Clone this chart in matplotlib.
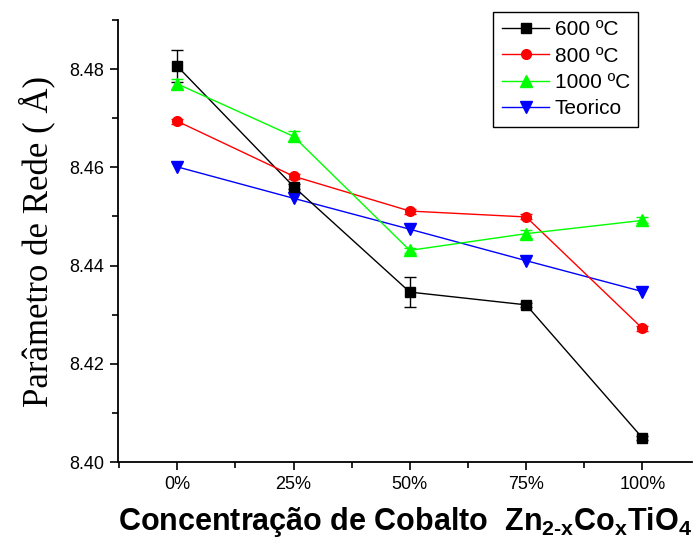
import matplotlib
matplotlib.use('Agg')
import matplotlib.pyplot as plt
from matplotlib.ticker import FixedLocator
from matplotlib.lines import Line2D

plt.rcParams['font.family'] = ['Liberation Sans', 'DejaVu Sans']
plt.rcParams['mathtext.fontset'] = 'custom'
plt.rcParams['mathtext.bf'] = 'Liberation Sans:bold'
plt.rcParams['mathtext.rm'] = 'Liberation Sans:bold'

# concentration of cobalt (%)
x = [0, 25, 50, 75, 100]
x_labels = ['0%', '25%', '50%', '75%', '100%']

y_600 = [8.4806, 8.4561, 8.4346, 8.4320, 8.4049]
err_600 = [0.0032, 0.0005, 0.0030, 0.0004, 0.0004]
y_800 = [8.4694, 8.4582, 8.4511, 8.4499, 8.4272]
err_800 = [0.0005, 0.0005, 0.0005, 0.0005, 0.0005]
y_1000 = [8.4770, 8.4663, 8.4431, 8.4465, 8.4492]
err_1000 = [0.0010, 0.0010, 0.0005, 0.0008, 0.0006]
y_teo = [8.4601, 8.4537, 8.4474, 8.4410, 8.4347]

fig = plt.figure(figsize=(6.95, 5.41), dpi=100)
ax = fig.add_axes([0.170, 0.146, 0.826, 0.817])

ax.errorbar(x, y_600, yerr=err_600, color='black', marker='s', ms=7, lw=1,
            capsize=4, elinewidth=1)
ax.errorbar(x, y_800, yerr=err_800, color='red', marker='o', ms=7, lw=1,
            capsize=4, elinewidth=1)
ax.errorbar(x, y_1000, yerr=err_1000, color='#00ff00', marker='^', ms=8, lw=1,
            capsize=4, elinewidth=1)
ax.plot(x, y_teo, color='blue', marker='v', ms=8, lw=1)

ax.set_xlim(-12.7, 110.7)
ax.set_ylim(8.40, 8.49)
ax.xaxis.set_major_locator(FixedLocator(x))
ax.set_xticklabels(x_labels)
ax.xaxis.set_minor_locator(FixedLocator([-12.5, 12.5, 37.5, 62.5, 87.5]))
ax.yaxis.set_major_locator(FixedLocator([8.40, 8.42, 8.44, 8.46, 8.48]))
ax.yaxis.set_minor_locator(FixedLocator([8.41, 8.43, 8.45, 8.47, 8.49]))
ax.yaxis.set_major_formatter(plt.FuncFormatter(lambda v, p: '%.2f' % v))

ax.spines['top'].set_visible(False)
ax.spines['right'].set_visible(False)
ax.spines['left'].set_linewidth(1.3)
ax.spines['bottom'].set_linewidth(1.3)
ax.tick_params(which='major', direction='out', length=6, width=1.2, labelsize=13, pad=4)
ax.tick_params(which='minor', direction='out', length=4, width=1.2)

ax.set_ylabel('Parâmetro de Rede ( Å)', family=['Liberation Serif'], fontsize=25, labelpad=10)
ax.set_xlabel(r'Concentração de Cobalto  Zn$_{\mathbf{2\text{-}x}}$Co$_{\mathbf{x}}$TiO$_{\mathbf{4}}$',
              fontsize=22, fontweight='bold', labelpad=9)

# legend handles: line - marker - line, no error bars
handles = [
    Line2D([], [], color='black', marker='s', ms=7, lw=1),
    Line2D([], [], color='red', marker='o', ms=7, lw=1),
    Line2D([], [], color='#00ff00', marker='^', ms=8, lw=1),
    Line2D([], [], color='blue', marker='v', ms=8, lw=1),
]
labels = ['600 ºC', '800 ºC', '1000 ºC', 'Teorico']
leg = ax.legend(handles, labels, loc='upper right', bbox_to_anchor=(0.906, 1.018),
                borderaxespad=0, fontsize=15, fancybox=False, edgecolor='black',
                framealpha=1, handlelength=2.3, borderpad=0.4, labelspacing=0.35,
                handletextpad=0.25)
leg.get_frame().set_linewidth(1)

fig.savefig('out.png', dpi=100)
